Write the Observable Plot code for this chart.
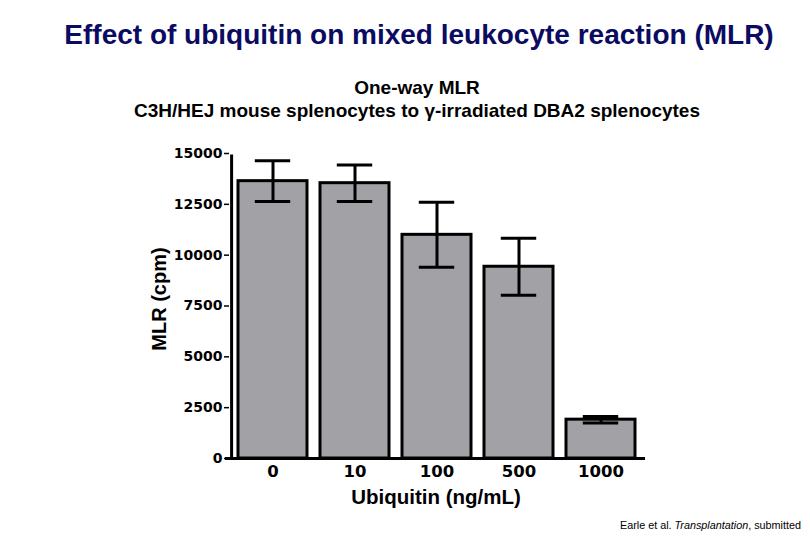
<!DOCTYPE html>
<html>
<head>
<meta charset="utf-8">
<script src="https://cdn.jsdelivr.net/npm/d3@7"></script>
<script src="https://cdn.jsdelivr.net/npm/@observablehq/plot@0.6"></script>
<style>
  body { margin: 0; background: #fff; font-family: "Liberation Sans", Arial, sans-serif; }
  #wrap { position: relative; width: 810px; height: 540px; overflow: hidden; }
  #wrap svg { position: absolute; left: 0; top: 0; }
  .t { position: absolute; font-weight: bold; white-space: nowrap; }
</style>
</head>
<body>
<div id="wrap">
  <div class="t" style="left:419px;top:35px;font-size:28px;color:#0b0b62;transform:translate(-50%,-50%);">Effect of ubiquitin on mixed leukocyte reaction (MLR)</div>
  <div class="t" style="left:417px;top:99px;font-size:19px;color:#000;line-height:23px;text-align:center;transform:translate(-50%,-50%);">One-way MLR<br>C3H/HEJ mouse splenocytes to γ-irradiated DBA2 splenocytes</div>
  <div class="t" style="left:436px;top:497px;font-size:20.5px;transform:translate(-50%,-50%);">Ubiquitin (ng/mL)</div>
  <div class="t" style="left:159px;top:299px;font-size:20px;transform:translate(-50%,-50%) rotate(-90deg);">MLR (cpm)</div>
  <div class="t" style="right:9px;top:519px;font-size:10.8px;font-weight:normal;">Earle et al. <i>Transplantation</i>, submitted</div>
</div>
<script>
const doses = ["0", "10", "100", "500", "1000"];
const means = [13640, 13540, 11000, 9430, 1910];
const errs = [1000, 900, 1600, 1400, 160];
const yTicks = [0, 2500, 5000, 7500, 10000, 12500, 15000];

const data = doses.map((d, i) => ({dose: d, mean: means[i], lo: means[i] - errs[i], hi: means[i] + errs[i]}));

const bw = 69.6, capW = 36, inset = (bw - capW) / 2, outerPad = 6.6;
const tickFont = "DejaVu Sans, sans-serif";

const chart = Plot.plot({
  width: 810,
  height: 540,
  marginLeft: 229,
  marginRight: 167,
  marginTop: 153,
  marginBottom: 82,
  style: {fontFamily: "Liberation Sans, Arial, sans-serif", background: "transparent", overflow: "visible"},
  x: {domain: doses, paddingInner: 0.16, paddingOuter: 0.08, label: null},
  y: {domain: [0, 15000], label: null},
  marks: [
    Plot.barY(data, {x: "dose", y: "mean", fill: "#a2a1a6", stroke: "#000", strokeWidth: 3}),
    Plot.ruleX(data, {x: "dose", y1: "lo", y2: "hi", stroke: "#000", strokeWidth: 3}),
    Plot.tickY(data, {x: "dose", y: "lo", stroke: "#000", strokeWidth: 3, insetLeft: inset, insetRight: inset}),
    Plot.tickY(data, {x: "dose", y: "hi", stroke: "#000", strokeWidth: 3, insetLeft: inset, insetRight: inset}),
    Plot.axisY({ticks: yTicks, tickFormat: d => String(d), tickSize: 5, tickPadding: 2, fontSize: 14, fontWeight: "bold", fontFamily: tickFont, strokeWidth: 1.5, label: null}),
    Plot.axisX({tickSize: 0, tickPadding: 7, fontSize: 16.5, fontWeight: "bold", fontFamily: tickFont, label: null}),
    Plot.ruleX([doses[0]], {y1: 0, y2: 15000, dx: -(bw / 2 + outerPad), stroke: "#000", strokeWidth: 3, insetBottom: -1.5}),
    Plot.ruleY([0], {stroke: "#000", strokeWidth: 3, insetLeft: -4, insetRight: -2})
  ]
});
document.getElementById("wrap").prepend(chart);
</script>
</body>
</html>
